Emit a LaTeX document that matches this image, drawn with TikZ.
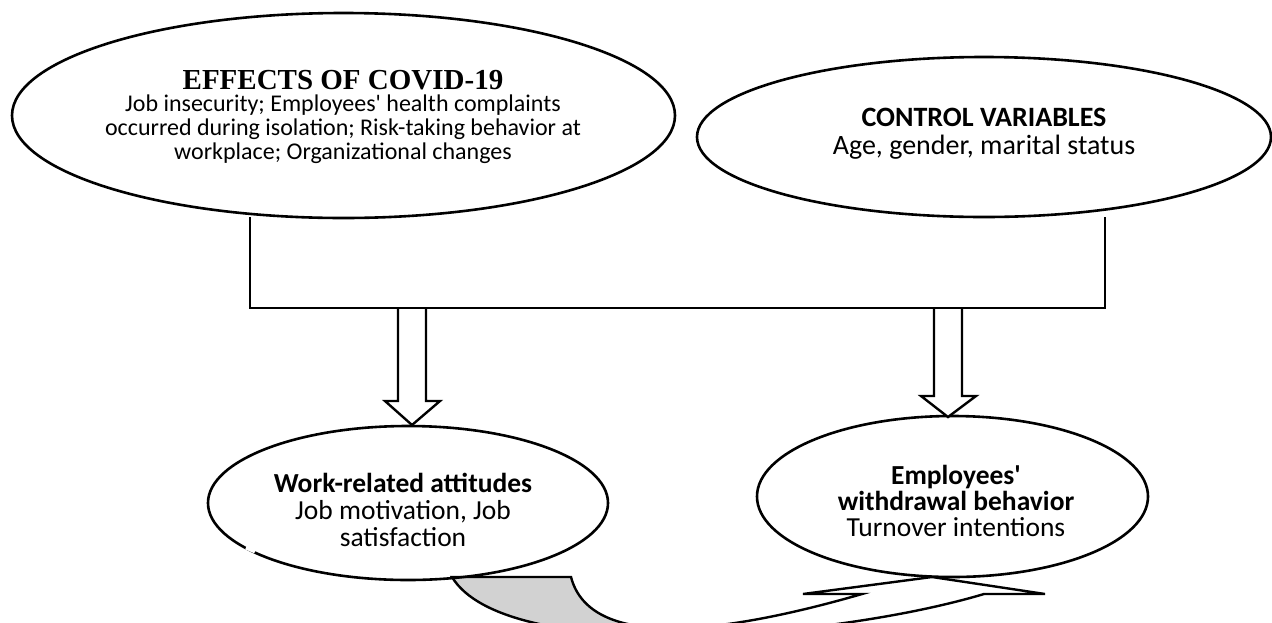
\documentclass[tikz,border=0pt]{standalone}
\usepackage{fontspec}
\setmainfont{Carlito}[Ligatures=TeXOff]
\newfontfamily\titlefont{Liberation Serif}
\usetikzlibrary{shapes.geometric}
\begin{document}
\begin{tikzpicture}[x=1pt,y=-1pt,
  oval/.style={ellipse, draw=black, line width=2.6pt, inner sep=0pt, outer sep=0pt},
  lbl/.style={align=center, inner sep=0pt, text=black},
  hollow/.style={draw=black, line width=2.4pt, fill=white, line join=miter},
  brk/.style={draw=black, line width=2.2pt},
  bendarrow/.style={draw=black, line width=2.4pt, line join=miter}]
\useasboundingbox (0,0) rectangle (1272,622);

% curved block arrow (drawn first, under the ovals)
\coordinate (tailL) at (452,577);
\coordinate (tailR) at (571,577);
\coordinate (headIn) at (862,594);
\coordinate (barbL) at (803,594);
\coordinate (tip) at (932,577);
\coordinate (barbR) at (1045,594);
\coordinate (headOut) at (984,594);
\newcommand\bendpath{(tailL) -- (tailR) .. controls (590,650) and (720,635) .. (headIn) -- (barbL) -- (tip) -- (barbR) -- (headOut) .. controls (830,640) and (505,665) .. (tailL) -- cycle}
\fill[white] \bendpath;
\begin{scope}
  \clip \bendpath;
  \fill[gray!35] (440,560) rectangle (680,700);
\end{scope}
\draw[bendarrow] \bendpath;

% ovals
\node[oval, minimum width=663pt, minimum height=205pt] (effects) at (343.5,115.5) {};
\node[oval, minimum width=574pt, minimum height=160pt] (control) at (984,137) {};
\node[oval, minimum width=400pt, minimum height=154pt] (work) at (408,503) {};
\node[oval, minimum width=391pt, minimum height=161pt] (withdrawal) at (952.5,496.5) {};

% small gap in the lower-left outline of the work oval
\draw[white, line width=4pt] (246,547.5) -- (255,551.5);

% texts
\node[lbl, font=\fontsize{24}{24}\selectfont] (effectsText) at (343,117)
  {{\titlefont\bfseries\fontsize{29}{24}\selectfont EFFECTS OF COVID-19}\\[-2pt]
   Job insecurity; Employees' health complaints\\
   occurred during isolation; Risk-taking behavior at\\
   workplace; Organizational changes};
\node[lbl, font=\fontsize{28}{28}\selectfont] (controlText) at (984,134)
  {\textbf{CONTROL VARIABLES}\\ Age, gender, marital status};
\node[lbl, font=\fontsize{27.5}{27}\selectfont] (workText) at (403,510)
  {\textbf{Work-related attitudes}\\ Job motivation, Job\\ satisfaction};
\node[lbl, font=\fontsize{27.5}{26}\selectfont] (withdrawalText) at (956,501)
  {\textbf{Employees'}\\ \textbf{withdrawal behavior}\\ Turnover intentions};

% bracket joining the two upper ovals
\coordinate (brL) at (250,217);
\coordinate (brLb) at (250,308);
\coordinate (brRb) at (1105,308);
\coordinate (brR) at (1105,217);
\draw[brk] (brL) -- (brLb) -- (brRb) -- (brR);

% hollow down arrows
\coordinate (tipW) at (412,425);
\coordinate (tipE) at (948,417);
\draw[hollow] (398,308) -- (398,401) -- (385,401) -- (tipW) -- (440,401) -- (426,401) -- (426,308);
\draw[hollow] (934,308) -- (934,396) -- (921,396) -- (tipE) -- (976,396) -- (962,396) -- (962,308);
\draw[brk] (brLb) -- (brRb);
\end{tikzpicture}
\end{document}
